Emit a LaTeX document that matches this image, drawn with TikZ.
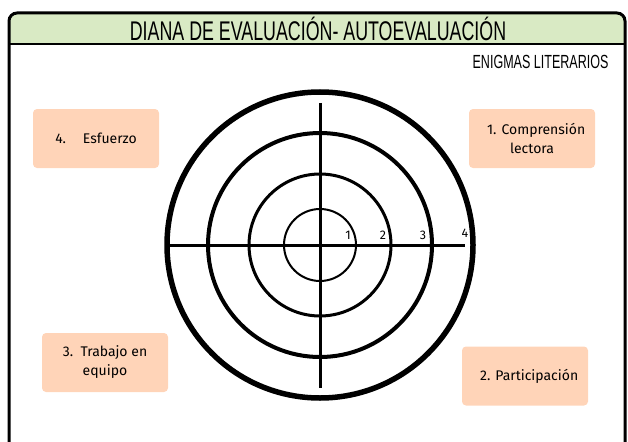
\documentclass[tikz,border=0pt]{standalone}
\usepackage{fontspec}
\setmainfont{Fira Sans}
\newfontfamily\titlefont[FakeStretch=0.66]{Liberation Sans}
\definecolor{bandgreen}{HTML}{D9EAC4}
\definecolor{peach}{HTML}{FFD4B8}

\tikzstyle{ring}=[circle,draw,inner sep=0pt]
\tikzstyle{crit}=[rounded corners=4pt,fill=peach,minimum width=126pt,minimum height=59pt,align=center,font=\fontsize{14}{19}\selectfont]
\tikzstyle{score}=[font=\fontsize{12.5}{12.5}\selectfont,inner sep=0pt]

\begin{document}
\begin{tikzpicture}[x=1pt,y=-1pt]
	\useasboundingbox (0,0) rectangle (628,441);
	
	% frame and title band
	\fill[bandgreen] (9,44) [rounded corners=8pt] -- (9,13) -- (625,13) [sharp corners] -- (625,44) -- cycle;
	\draw[line width=3pt] (9,460) [rounded corners=8pt] -- (9,13) -- (625,13) [sharp corners] -- (625,460);
	\draw[line width=2pt] (9,44) -- (625,44);
	
	\node[font=\titlefont\fontsize{27}{27}\selectfont] (title) at (318,29) {DIANA DE EVALUACIÓN- AUTOEVALUACIÓN};
	\node[font=\titlefont\fontsize{19}{19}\selectfont,anchor=east] (sub) at (612,62) {ENIGMAS LITERARIOS};
	
	% target
	\coordinate (c) at (320,245);
	\node[ring,line width=2pt,minimum size=72pt] (r1) at (c) {};
	\node[ring,line width=3pt,minimum size=142pt] (r2) at (c) {};
	\node[ring,line width=4pt,minimum size=224pt] (r3) at (c) {};
	\node[ring,line width=5.5pt,minimum size=306pt] (r4) at (c) {};
	
	\coordinate (w) at (169,245);
	\coordinate (e) at (465,245);
	\coordinate (n) at (320,103);
	\coordinate (s) at (320,388);
	\draw[line width=3pt] (w) -- (e);
	\draw[line width=3pt] (n) -- (s);
	
	\node[score] (s1) at (348,235) {1};
	\node[score] (s2) at (383,235) {2};
	\node[score] (s3) at (423,235) {3};
	\node[score] (s4) at (465,233) {4};
	
	% criteria
	\node[crit] (c4) at (96,138.5) {4.\hspace{1.2em}Esfuerzo};
	\node[crit] (c1) at (532,138.5) {\hspace{0.6em}1. Comprensión\\lectora};
	\node[crit] (c3) at (105,362.5) {3.\ \ Trabajo en\\equipo};
	\node[crit] (c2) at (525,376) {\hspace{0.6em}2. Participación};
\end{tikzpicture}
\end{document}
